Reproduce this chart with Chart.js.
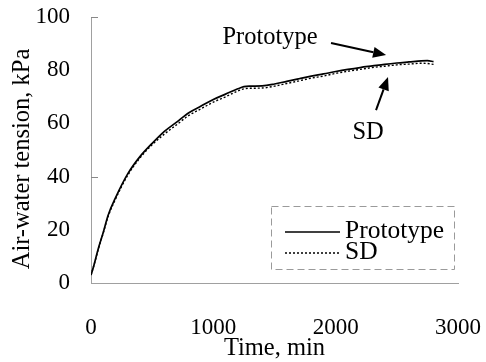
<!DOCTYPE html>
<html>
<head>
<meta charset="utf-8">
<script src="https://cdn.jsdelivr.net/npm/chart.js@4/dist/chart.umd.min.js"></script>
<style>
  html, body { margin: 0; padding: 0; background: #fff; }
  #wrap { width: 486px; height: 362px; position: relative; }
</style>
</head>
<body>
<div id="wrap"><canvas id="suctionChart"></canvas></div>
<script>
// elapsed time, min
var timeMin = [0, 20, 60, 100, 140, 200, 300, 400, 500, 600, 700, 800, 900, 1000, 1100, 1200, 1250, 1300, 1400, 1500,
               1600, 1700, 1800, 1900, 2000, 2100, 2200, 2300, 2400, 2500, 2600, 2700, 2750, 2800];
// air-water tension, kPa
var prototypeKPa = [3, 6, 13, 19, 25.5, 32, 41, 47.5, 52.5, 57, 60.5, 64, 66.5, 69, 71, 73, 73.8, 74, 74.1, 74.8,
                    75.8, 76.8, 77.8, 78.6, 79.5, 80.3, 81, 81.6, 82.2, 82.7, 83.1, 83.5, 83.6, 83.2];
var sdKPa = [3, 6, 12.8, 18.8, 25, 31.5, 40.5, 47, 52, 56, 59.5, 63, 65.5, 68, 70, 72.2, 73, 73.2, 73.3, 74,
             75, 76, 77, 77.8, 78.8, 79.6, 80.3, 81, 81.5, 82, 82.3, 82.6, 82.5, 82.2];

var xTicks = [0, 1000, 2000, 3000];
var yTicks = [0, 20, 40, 60, 80, 100];

// callouts in data units: label position, arrow tail -> head
var protoCallout = { text: 'Prototype', at: [1464, 92.1], arrow: [1962, 90.2, 2412, 85.7] };
var sdCallout = { text: 'SD', at: [2265, 56.4], arrow: [2330, 65.0, 2428, 77.4] };

var serif = '"Liberation Serif", "Times New Roman", serif';
Chart.defaults.font.family = serif;
Chart.defaults.color = '#000';

function toPoints(xs, ys) {
    return xs.map((t, i) => ({ x: t, y: ys[i] }));
}

function drawArrow(ctx, x1, y1, x2, y2) {
    var ang = Math.atan2(y2 - y1, x2 - x1);
    var len = 13, half = 5.5;
    var bx = x2 - len * Math.cos(ang), by = y2 - len * Math.sin(ang);
    ctx.beginPath();
    ctx.moveTo(x1, y1);
    ctx.lineTo(bx, by);
    ctx.lineWidth = 2;
    ctx.strokeStyle = '#000';
    ctx.stroke();
    ctx.beginPath();
    ctx.moveTo(x2, y2);
    ctx.lineTo(bx + half * Math.sin(ang), by - half * Math.cos(ang));
    ctx.lineTo(bx - half * Math.sin(ang), by + half * Math.cos(ang));
    ctx.closePath();
    ctx.fillStyle = '#000';
    ctx.fill();
}

var extras = {
    id: 'extras',
    afterDraw(chart) {
        var ctx = chart.ctx, x = chart.scales.x, y = chart.scales.y, area = chart.chartArea;
        ctx.save();

        // y axis title
        ctx.save();
        ctx.translate(22.5, (area.top + area.bottom) / 2 + 9);
        ctx.rotate(-Math.PI / 2);
        ctx.font = '24.5px ' + serif;
        ctx.fillStyle = '#000';
        ctx.textAlign = 'center';
        ctx.textBaseline = 'middle';
        ctx.fillText('Air-water tension, kPa', 0, 0);
        ctx.restore();

        // small inward ticks on the y axis
        ctx.strokeStyle = '#888';
        ctx.lineWidth = 1;
        [100, 40].forEach(v => {
            var py = Math.round(y.getPixelForValue(v)) + 0.5;
            ctx.beginPath();
            ctx.moveTo(area.left, py);
            ctx.lineTo(area.left + 7, py);
            ctx.stroke();
        });

        // callouts
        ctx.font = '24.5px ' + serif;
        ctx.fillStyle = '#000';
        ctx.textAlign = 'center';
        ctx.textBaseline = 'middle';
        [protoCallout, sdCallout].forEach(c => {
            ctx.fillText(c.text, x.getPixelForValue(c.at[0]), y.getPixelForValue(c.at[1]));
            drawArrow(ctx,
                x.getPixelForValue(c.arrow[0]), y.getPixelForValue(c.arrow[1]),
                x.getPixelForValue(c.arrow[2]), y.getPixelForValue(c.arrow[3]));
        });

        // legend box inside the plot
        var bw = 183, bh = 63;
        var bx = area.right - 4 - bw, by = area.bottom - 14 - bh;
        ctx.setLineDash([7, 4]);
        ctx.lineWidth = 1;
        ctx.strokeStyle = '#9a9a9a';
        ctx.strokeRect(bx + 0.5, by + 0.5, bw, bh);

        chart.data.datasets.forEach((ds, i) => {
            var ly = by + 26 + i * 21;
            ctx.beginPath();
            ctx.setLineDash(ds.borderDash || []);
            ctx.lineWidth = 1.5;
            ctx.strokeStyle = '#000';
            ctx.moveTo(bx + 14, ly);
            ctx.lineTo(bx + 69, ly);
            ctx.stroke();
            ctx.setLineDash([]);
            ctx.font = '25.5px ' + serif;
            ctx.textAlign = 'left';
            ctx.textBaseline = 'middle';
            ctx.fillText(ds.label, bx + 74, ly - 1);
        });

        ctx.restore();
    }
};

var ctx = document.getElementById('suctionChart').getContext('2d');
var suctionChart = new Chart(ctx, {
    type: 'line',
    data: {
        datasets: [
            {
                label: 'Prototype',
                data: toPoints(timeMin, prototypeKPa),
                borderColor: '#000',
                borderWidth: 1.7,
                pointRadius: 0,
                cubicInterpolationMode: 'monotone'
            },
            {
                label: 'SD',
                data: toPoints(timeMin, sdKPa),
                borderColor: '#000',
                borderWidth: 1.4,
                borderDash: [2, 2],
                pointRadius: 0,
                cubicInterpolationMode: 'monotone'
            }
        ]
    },
    options: {
        responsive: true,
        maintainAspectRatio: false,
        animation: false,
        layout: { padding: 0 },
        plugins: {
            legend: { display: false },
            tooltip: { enabled: false }
        },
        scales: {
            x: {
                type: 'linear',
                min: 0,
                max: 3000,
                afterBuildTicks: function(scale) {
                    scale.ticks = xTicks.map(v => ({ value: v }));
                },
                afterFit: function(scale) {
                    scale.height = 79;
                    scale.paddingLeft = 0;
                    scale.paddingRight = 28;
                },
                grid: { display: false, drawTicks: false },
                border: { display: true, color: '#a0a0a0', width: 1, dash: [9, 5] },
                ticks: {
                    padding: 33,
                    color: '#000',
                    callback: v => String(v),
                    font: { family: serif, size: 23, lineHeight: 1 }
                },
                title: {
                    display: true,
                    text: 'Time, min',
                    color: '#000',
                    padding: { top: 0, bottom: 1 },
                    font: { family: serif, size: 24.5, lineHeight: 1 }
                }
            },
            y: {
                min: 0,
                max: 100,
                afterBuildTicks: function(scale) {
                    scale.ticks = yTicks.map(v => ({ value: v }));
                },
                afterFit: function(scale) {
                    scale.width = 91;
                    scale.paddingTop = 17;
                    scale.paddingBottom = 0;
                },
                grid: { display: false, drawTicks: false },
                border: { display: true, color: '#a0a0a0', width: 1, dash: [3, 4] },
                ticks: {
                    padding: 21,
                    color: '#000',
                    callback: v => String(v),
                    font: { family: serif, size: 23, lineHeight: 1 }
                }
            }
        }
    },
    plugins: [extras]
});
</script>
</body>
</html>
